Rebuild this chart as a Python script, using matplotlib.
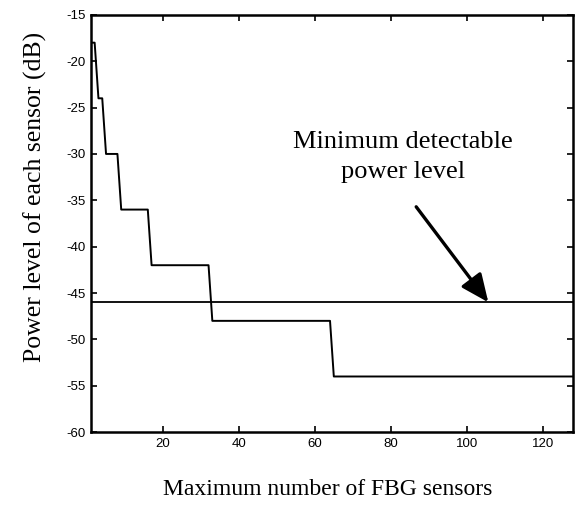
import matplotlib
matplotlib.use("Agg")
import matplotlib.pyplot as plt

plt.rcParams["axes.unicode_minus"] = False

# step curve (ends of each plateau)
n_sensors = [1, 2, 3, 4, 5, 8, 9, 16, 17, 32, 33, 64, 65, 128]
power_db = [-18, -18, -24, -24, -30, -30, -36, -36, -42, -42, -48, -48, -54, -54]

min_level = -46  # minimum detectable power level
x_ticks = [20, 40, 60, 80, 100, 120]
y_ticks = [-15, -20, -25, -30, -35, -40, -45, -50, -55, -60]

fig = plt.figure(figsize=(5.75, 5.12), dpi=100)
ax = fig.add_axes([0.158, 0.156, 0.8385, 0.815])

ax.plot(n_sensors, power_db, color="black", lw=1.4)
ax.axhline(min_level, color="black", lw=1.3)

ax.set_xlim(1, 128)
ax.set_ylim(-60, -15)
ax.set_xticks(x_ticks)
ax.set_yticks(y_ticks)
ax.tick_params(direction="in", top=True, right=True, length=4, width=1.2,
               labelsize=9.5, pad=4)
for lab in ax.get_xticklabels() + ax.get_yticklabels():
    lab.set_family("Liberation Sans")
for s in ax.spines.values():
    s.set_linewidth(1.8)

ax.annotate("", xy=(105.7, -46.0), xytext=(86.7, -35.7),
            arrowprops=dict(arrowstyle="-|>,head_length=1.7,head_width=0.75",
                            color="black", lw=2.4, shrinkA=0, shrinkB=0))
ax.text(83.3, -30.3, "Minimum detectable\npower level", ha="center", va="center",
        family="Liberation Serif", fontsize=19, linespacing=1.45)

fig.text(0.061, 0.615, "Power level of each sensor (dB)", rotation=90,
         ha="center", va="center", family="Liberation Serif", fontsize=18.5)
fig.text(0.57, 0.043, "Maximum number of FBG sensors",
         ha="center", va="center", family="Liberation Serif", fontsize=17)

fig.savefig("out.png", dpi=100)
